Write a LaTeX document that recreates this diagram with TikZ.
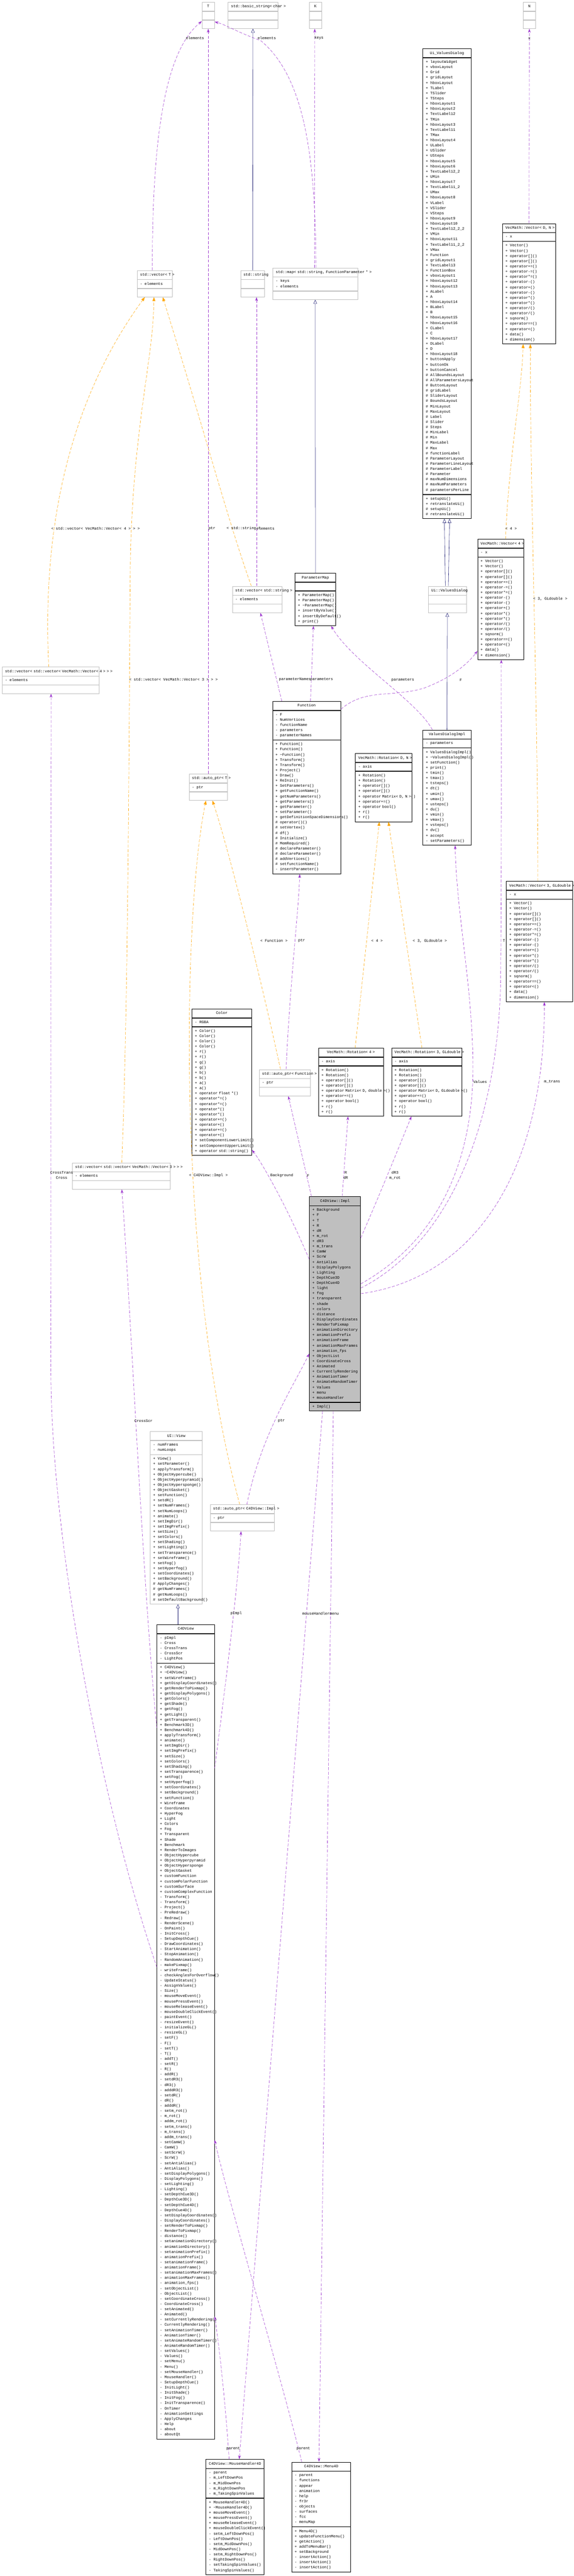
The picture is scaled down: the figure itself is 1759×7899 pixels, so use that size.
\documentclass[tikz,border=0pt]{standalone}
\usepackage{fontspec}
\setmainfont{Liberation Mono}
\usetikzlibrary{arrows.meta, fit}

\definecolor{dxpurple}{HTML}{9A32CD}
\definecolor{dxorange}{HTML}{FFA500}
\definecolor{dxnavy}{HTML}{191970}
\definecolor{dxgray}{HTML}{BFBFBF}

\tikzset{
  kind doc/.style={draw=black},
  kind ext/.style={draw=dxgray},
  kind cur/.style={draw=black, fill=dxgray},
  hdr/.style={kind #1, line width=1pt, anchor=north west, align=center, inner xsep=9pt, inner ysep=0pt, minimum height=27pt},
  sec/.style={kind #1, line width=1pt, anchor=north west, align=left, inner xsep=9pt, inner ysep=5pt},
  use/.style={dxpurple, dash pattern=on 9pt off 5pt, line width=0.9pt, -{Stealth[length=12pt,width=8pt]}},
  tmpl/.style={dxorange, dash pattern=on 9pt off 5pt, line width=0.9pt, -{Triangle[length=12pt,width=9pt]}},
  inh/.style={dxnavy, line width=0.9pt, -{Triangle[open,length=12pt,width=11pt]}},
  lbl/.style={inner sep=0pt, align=center}
}

\newcommand{\mb}[2]{\noindent\mbox{\strut\makebox[14pt][l]{#1}#2}\par}
\newcommand{\rows}[2]{\foreach \mem in {#2}{\mb{#1}{\mem}}}
\newcommand{\umlclass}[7]{%
  \pgfmathsetmacro{\tw}{#4-18}%
  \node[hdr=#2, text width=\tw pt] (#1-t) at #3 {\mbox{\strut #5}};
  \node[sec=#2, text width=\tw pt] (#1-a) at (#1-t.south west) {#6};
  \node[sec=#2, text width=\tw pt] (#1-m) at (#1-a.south west) {#7};
  \node[fit=(#1-t)(#1-m), inner sep=0pt] (#1) {};
}

\begin{document}
\begin{tikzpicture}[x=1pt, y=-1pt, every node/.style={font=\fontsize{11.6}{16}\selectfont}]
\useasboundingbox (0,0) rectangle (1759,7899);

\umlclass{T}{ext}{(619,6)}{38}{T}{\mb{}{}}{\mb{}{}}
\umlclass{basic}{ext}{(699,6)}{152}{std::basic\_string< char >}{\mb{}{}}{\mb{}{}}
\umlclass{K}{ext}{(948,6)}{37}{K}{\mb{}{}}{\mb{}{}}
\umlclass{N}{ext}{(1604,6)}{37}{N}{\mb{}{}}{\mb{}{}}

\umlclass{UiVD}{doc}{(1296,149)}{148}{Ui\_ValuesDialog}{%
  \rows{+}{layoutWidget,vboxLayout,Grid,gridLayout,hboxLayout,TLabel,TSlider,TSteps,hboxLayout1,hboxLayout2,TextLabel12,TMin,hboxLayout3,TextLabel11,TMax,hboxLayout4,ULabel,USlider,USteps,hboxLayout5,hboxLayout6,TextLabel12\_2,UMin,hboxLayout7,TextLabel11\_2,UMax,hboxLayout8,VLabel,VSlider,VSteps,hboxLayout9,hboxLayout10,TextLabel12\_2\_2,VMin,hboxLayout11,TextLabel11\_2\_2,VMax,Function,gridLayout1,TextLabel13,FunctionBox,vboxLayout1,hboxLayout12,hboxLayout13,ALabel,A,hboxLayout14,BLabel,B,hboxLayout15,hboxLayout16,CLabel,C,hboxLayout17,DLabel,D,hboxLayout18,buttonApply,buttonOk,buttonCancel}%
  \rows{\#}{AllBoundsLayout,AllParametersLayout,ButtonLayout,gridLabel,SliderLayout,BoundsLayout,MinLayout,MaxLayout,Label,Slider,Steps,MinLabel,Min,MaxLabel,Max,functionLabel,ParameterLayout,ParameterLineLayout,ParameterLabel,Parameter,maxNumDimensions,maxNumParameters,parametersPerLine}}{%
  \rows{+}{setupUi(),retranslateUi()}\rows{\#}{setupUi(),retranslateUi()}}

\umlclass{VecDN}{doc}{(1540,685)}{163}{VecMath::Vector< D, N >}{\mb{-}{x}}{%
  \rows{+}{Vector(),Vector(),operator[](),operator[](),operator+=(),operator-=(),operator*=(),operator-(),operator+(),operator-(),operator*(),operator*(),operator/(),operator/(),sqnorm(),operator==(),operator<(),data(),dimension()}}

\umlclass{map}{ext}{(836,821)}{260}{std::map< std::string, FunctionParameter * >}{\mb{-}{keys}\mb{-}{elements}}{\mb{}{}}
\umlclass{vecT}{ext}{(420,829)}{107}{std::vector< T >}{\mb{-}{elements}}{\mb{}{}}
\umlclass{stdstring}{ext}{(737,829)}{74}{std::string}{\mb{}{}}{\mb{}{}}

\umlclass{PMap}{doc}{(904,1757)}{125}{ParameterMap}{\mb{}{}}{%
  \rows{+}{ParameterMap(),ParameterMap(),\textasciitilde ParameterMap(),insertByValue(),insertByDefault(),print()}}
\umlclass{vecString}{ext}{(712,1797)}{152}{std::vector< std::string >}{\mb{-}{elements}}{\mb{}{}}
\umlclass{UiVDns}{ext}{(1313,1797)}{116}{Ui::ValuesDialog}{\mb{}{}}{\mb{}{}}

\umlclass{Vec4}{doc}{(1464,1653)}{141}{VecMath::Vector< 4 >}{\mb{-}{x}}{%
  \rows{+}{Vector(),Vector(),operator[](),operator[](),operator+=(),operator-=(),operator*=(),operator-(),operator-(),operator+(),operator*(),operator*(),operator/(),operator/(),sqnorm(),operator==(),operator<(),data(),dimension()}}

\umlclass{vvV4}{ext}{(6,2045)}{298}{std::vector< std::vector< VecMath::Vector< 4 > > >}{\mb{-}{elements}}{\mb{}{}}

\umlclass{Function}{doc}{(835,2150)}{209}{Function}{%
  \rows{-}{F,NumVertices,functionName,parameters,parameterNames}}{%
  \rows{+}{Function(),Function(),\textasciitilde Function(),Transform(),Transform(),Project(),Draw(),ReInit(),SetParameters(),getFunctionName(),getNumParameters(),getParameters(),getParameter(),setParameter(),getDefinitionSpaceDimensions()}%
  \rows{\#}{operator()(),setVertex(),df(),Initialize(),MemRequired(),declareParameter(),declareParameter(),addVertices(),setfunctionName()}%
  \mb{-}{insertParameter()}}

\umlclass{VDI}{doc}{(1296,2238)}{148}{ValuesDialogImpl}{\mb{-}{parameters}}{%
  \rows{+}{ValuesDialogImpl(),\textasciitilde ValuesDialogImpl(),setFunction(),print(),tmin(),tmax(),tsteps(),dt(),umin(),umax(),usteps(),du(),vmin(),vmax(),vsteps(),dv(),accept}%
  \mb{-}{setParameters()}}

\umlclass{RotDN}{doc}{(1089,2310)}{173}{VecMath::Rotation< D, N >}{\mb{-}{axis}}{%
  \rows{+}{Rotation(),Rotation(),operator[](),operator[](),{operator Matrix< D, N >()},operator+=(),operator bool(),r(),r()}}
\umlclass{autoT}{ext}{(579,2373)}{118}{std::auto\_ptr< T >}{\mb{-}{ptr}}{\mb{}{}}

\umlclass{Vec3GL}{doc}{(1552,2702)}{203}{VecMath::Vector< 3, GLdouble >}{\mb{-}{x}}{%
  \rows{+}{Vector(),Vector(),operator[](),operator[](),operator+=(),operator-=(),operator*=(),operator-(),operator-(),operator+(),operator*(),operator*(),operator/(),operator/(),sqnorm(),operator==(),operator<(),data(),dimension()}}

\umlclass{Color}{doc}{(588,3093)}{183}{Color}{\mb{-}{RGBA}}{%
  \rows{+}{Color(),Color(),Color(),Color(),r(),r(),g(),g(),b(),b(),a(),a(),operator float *(),operator*=(),operator*=(),operator*(),operator*(),operator+=(),operator+(),operator+=(),operator+(),setComponentLowerLimit(),setComponentUpperLimit(),operator std::string()}}

\umlclass{Rot4}{doc}{(976,3213)}{199}{VecMath::Rotation< 4 >}{\mb{-}{axis}}{%
  \rows{+}{Rotation(),Rotation(),operator[](),operator[](),{operator Matrix< D, double >()},operator+=(),operator bool(),r(),r()}}
\umlclass{Rot3GL}{doc}{(1200,3213)}{216}{VecMath::Rotation< 3, GLdouble >}{\mb{-}{axis}}{%
  \rows{+}{Rotation(),Rotation(),operator[](),operator[](),{operator Matrix< D, GLdouble >()},operator+=(),operator bool(),r(),r()}}
\umlclass{autoF}{ext}{(794,3279)}{157}{std::auto\_ptr< Function >}{\mb{-}{ptr}}{\mb{}{}}
\umlclass{vvV3}{ext}{(221,3565)}{300}{std::vector< std::vector< VecMath::Vector< 3 > > >}{\mb{-}{elements}}{\mb{}{}}

\umlclass{Impl}{cur}{(948,3669)}{157}{C4DView::Impl}{%
  \rows{+}{Background,F,T,R,dR,m\_rot,dR3,m\_trans,CamW,ScrW,AntiAlias,DisplayPolygons,Lighting,DepthCue3D,DepthCue4D,light,fog,transparent,shade,colors,distance,DisplayCoordinates,RenderToPixmap,animationDirectory,animationPrefix,animationFrame,animationMaxFrames,animation\_fps,ObjectList,CoordinateCross,Animated,CurrentlyRendering,AnimationTimer,AnimateRandomTimer,Values,menu,mouseHandler}}{\mb{+}{Impl()}}

\umlclass{UIView}{ext}{(460,4389)}{160}{UI::View}{\rows{-}{numFrames,numLoops}}{%
  \rows{+}{View(),setParameter(),applyTransform(),ObjectHypercube(),ObjectHyperpyramid(),ObjectHypersponge(),ObjectGasket(),setFunction(),setdR(),setNumFrames(),setNumLoops(),animate(),setImgDir(),setImgPrefix(),setSize(),setColors(),setShading(),setLighting(),setTransparence(),setWireframe(),setFog(),setHyperfog(),setCoordinates(),setBackground()}%
  \rows{\#}{ApplyChanges(),getNumFrames(),getNumLoops(),setDefaultBackground()}}
\umlclass{autoImpl}{ext}{(644,4613)}{197}{std::auto\_ptr< C4DView::Impl >}{\mb{-}{ptr}}{\mb{}{}}

\umlclass{C4DView}{doc}{(481,4981)}{176}{C4DView}{\rows{-}{pImpl,Cross,CrossTrans,CrossScr,LightPos}}{%
  \rows{+}{C4DView(),\textasciitilde C4DView(),setWireframe(),getDisplayCoordinates(),getRenderToPixmap(),getDisplayPolygons(),getColors(),getShade(),getFog(),getLight(),getTransparent(),Benchmark3D(),Benchmark4D(),applyTransform(),animate(),setImgDir(),setImgPrefix(),setSize(),setColors(),setShading(),setTransparence(),setFog(),setHyperfog(),setCoordinates(),setBackground(),setFunction(),Wireframe,Coordinates,HyperFog,Light,Colors,Fog,Transparent,Shade,Benchmark,RenderToImages,ObjectHypercube,ObjectHyperpyramid,ObjectHypersponge,ObjectGasket,customFunction,customPolarFunction,customSurface,customComplexFunction}%
  \rows{-}{Transform(),Transform(),Project(),PreRedraw(),Redraw(),RenderScene(),OnPaint(),InitCross(),SetupDepthCue(),DrawCoordinates(),StartAnimation(),StopAnimation(),RandomAnimation(),makePixmap(),writeFrame(),checkAnglesForOverflow(),UpdateStatus(),AssignValues(),Size(),mouseMoveEvent(),mousePressEvent(),mouseReleaseEvent(),mouseDoubleClickEvent(),paintEvent(),resizeEvent(),initializeGL(),resizeGL(),setF(),F(),setT(),T(),addT(),setR(),R(),addR(),setdR3(),dR3(),adddR3(),setdR(),dR(),adddR(),setm\_rot(),m\_rot(),addm\_rot(),setm\_trans(),m\_trans(),addm\_trans(),setCamW(),CamW(),setScrW(),ScrW()}%
  \rows{-}{setAntiAlias(),AntiAlias(),setDisplayPolygons(),DisplayPolygons(),setLighting(),Lighting(),setDepthCue3D(),DepthCue3D(),setDepthCue4D(),DepthCue4D(),setDisplayCoordinates(),DisplayCoordinates(),setRenderToPixmap(),RenderToPixmap(),distance(),setanimationDirectory(),animationDirectory(),setanimationPrefix(),animationPrefix(),setanimationFrame(),animationFrame(),setanimationMaxFrames(),animationMaxFrames(),animation\_fps(),setObjectList(),ObjectList(),setCoordinateCross(),CoordinateCross(),setAnimated(),Animated(),setCurrentlyRendering(),CurrentlyRendering(),setAnimationTimer(),AnimationTimer(),setAnimateRandomTimer(),AnimateRandomTimer(),setValues(),Values(),setMenu(),Menu(),setMouseHandler(),MouseHandler(),SetupDepthCue(),InitLight(),InitShade(),InitFog(),InitTransparence(),OnTimer,AnimationSettings,ApplyChanges,Help,about,aboutQt}}

\umlclass{MH4D}{doc}{(631,7541)}{178}{C4DView::MouseHandler4D}{%
  \rows{-}{parent,m\_LeftDownPos,m\_MidDownPos,m\_RightDownPos,m\_TakingSpinValues}}{%
  \rows{+}{MouseHandler4D(),\textasciitilde MouseHandler4D(),mouseMoveEvent(),mousePressEvent(),mouseReleaseEvent(),mouseDoubleClickEvent()}%
  \rows{-}{setm\_LeftDownPos(),LeftDownPos(),setm\_MidDownPos(),MidDownPos(),setm\_RightDownPos(),RightDownPos(),setTakingSpinValues(),TakingSpinValues()}}
\umlclass{Menu4D}{doc}{(894,7549)}{181}{C4DView::Menu4D}{%
  \rows{-}{parent,functions,appear,animation,help,fr3r,objects,surfaces,fcc,menuMap}}{%
  \rows{+}{Menu4D(),updateFunctionMenu(),getAction(),addToMenuBar(),setBackground}%
  \rows{-}{insertAction(),insertAction(),insertAction()}}

\draw[use] ([xshift=-7pt]vecT.north) .. controls (466,380) and (515,150) .. ([yshift=-18pt]T.west);
\draw[use] ([xshift=2pt]map.north) .. controls (968,450) and (925,230) .. (800,125) .. controls (720,95) and (690,75) .. ([yshift=-20pt]T.east);
\draw[use] ([xshift=-2pt]map.north) -- ([xshift=-2pt]K.south);
\draw[inh] (stdstring.north) -- (basic.south);
\draw[use] (autoT.north) -- (T.south);
\draw[use] (VecDN.north) -- (N.south);
\draw[tmpl] ([xshift=-6pt]vvV4.north) .. controls (135,1750) and (160,1300) .. ([xshift=-30pt]vecT.south);
\draw[tmpl] ([xshift=2pt]vvV3.north) .. controls (396,3000) and (396,2000) .. (400,1700) .. controls (410,1300) and (470,1100) .. ([xshift=-2pt]vecT.south);
\draw[tmpl] ([xshift=-18pt]vecString.north) .. controls (700,1600) and (620,1300) .. ([xshift=25pt]vecT.south);
\draw[use] ([xshift=-2pt]vecString.north) -- ([xshift=12pt]stdstring.south);
\draw[inh] (PMap.north) -- (map.south);
\draw[use] ([xshift=-76pt]Function.north) -- ([xshift=10pt]vecString.south);
\draw[use] ([xshift=12pt]Function.north) -- ([xshift=-6pt]PMap.south);
\draw[use] ([xshift=-45pt]VDI.north) .. controls (1280,2150) and (1080,2030) .. ([xshift=48pt]PMap.south);
\draw[use] ([yshift=-25pt]Function.north east) .. controls (1120,2110) and (1200,2140) .. (1300,2110) .. controls (1380,2080) and (1430,2040) .. ([yshift=27pt]Vec4.south west);
\draw[inh] (VDI.north) -- (UiVDns.south);
\draw[inh] ([xshift=-6pt]UiVDns.north) -- ([xshift=-8pt]UiVD.south);
\draw[inh] ([xshift=3pt]UiVDns.north) -- ([xshift=8pt]UiVD.south);
\draw[tmpl] ([xshift=15pt]Vec4.north) .. controls (1560,1400) and (1600,1200) .. ([xshift=-18pt]VecDN.south);
\draw[tmpl] ([xshift=-5pt]Vec3GL.north) .. controls (1650,2200) and (1625,1500) .. ([xshift=4pt]VecDN.south);
\draw[tmpl] ([xshift=13pt]Rot4.north) -- ([xshift=-13pt]RotDN.south);
\draw[tmpl] ([xshift=-15pt]Rot3GL.north) -- ([xshift=15pt]RotDN.south);
\draw[tmpl] ([xshift=-13pt]autoF.north) .. controls (800,3000) and (700,2600) .. ([xshift=13pt]autoT.south);
\draw[use] ([xshift=4pt]autoF.north) .. controls (890,3000) and (915,2800) .. ([xshift=-21pt]Function.south);
\draw[tmpl] ([xshift=-8pt]autoImpl.north) .. controls (540,3900) and (560,2800) .. ([xshift=-7pt]autoT.south);
\draw[use] ([xshift=14pt]autoImpl.north) .. controls (800,4400) and (900,4250) .. ([yshift=-153pt]Impl.west);
\draw[use] ([yshift=808pt]C4DView.east) .. controls (700,5100) and (730,4850) .. ([xshift=-4pt]autoImpl.south);
\draw[inh] ([xshift=-24pt]C4DView.north) -- ([xshift=5pt]UIView.south);
\draw[use] ([yshift=932pt]C4DView.west) .. controls (440,4900) and (400,4000) .. ([xshift=2pt]vvV3.south);
\draw[use] ([yshift=198pt]C4DView.west) .. controls (300,5500) and (156,4700) .. (156,4200) -- ([xshift=1pt]vvV4.south);
\draw[use] ([yshift=137pt]Impl.west) .. controls (880,3700) and (800,3560) .. ([yshift=-208pt]Color.east);
\draw[use] ([xshift=-72pt]Impl.north) -- ([xshift=11pt]autoF.south);
\draw[use] ([xshift=22pt]Impl.north) -- ([xshift=-9pt]Rot4.south);
\draw[use] ([yshift=-127pt]Impl.north east) .. controls (1170,3650) and (1230,3500) .. ([xshift=-47pt]Rot3GL.south);
\draw[use] ([yshift=-268pt]Impl.north east) .. controls (1350,3800) and (1455,3550) .. (1450,3250) .. controls (1445,3000) and (1400,2800) .. ([xshift=25pt]VDI.south);
\draw[use] ([yshift=-281pt]Impl.north east) .. controls (1400,3800) and (1530,3400) .. (1535,3000) .. controls (1538,2600) and (1537,2300) .. ([xshift=2pt]Vec4.south);
\draw[use] ([yshift=-298pt]Impl.north east) .. controls (1450,3920) and (1670,3600) .. ([xshift=15pt]Vec3GL.south);
\draw[use] ([xshift=-38pt]Impl.south) -- ([xshift=13pt]MH4D.north);
\draw[use] ([xshift=-5pt]Impl.south) -- ([xshift=-7pt]Menu4D.north);
\draw[use] ([xshift=-18pt]MH4D.north) .. controls (690,7350) and (670,7180) .. ([yshift=-873pt]C4DView.east);
\draw[use] ([xshift=-60pt]Menu4D.north) .. controls (860,7280) and (700,6750) .. ([yshift=-332pt]C4DView.east);

\node[lbl] (l-vecT) at (598,117) {elements};
\node[lbl] (l-mapT) at (818,117) {elements};
\node[lbl] (l-mapK) at (978,117) {keys};
\node[lbl] (l-vecDN) at (1623,117) {x};
\node[lbl] (l-vvV4) at (293,1621) {< std::vector< VecMath::Vector< 4 > > >};
\node[lbl] (l-autoT) at (650,1621) {ptr};
\node[lbl] (l-vecStr) at (747,1621) {< std::string >};
\node[lbl] (l-vecStrE) at (814,1621) {elements};
\node[lbl] (l-vec4) at (1567,1621) {< 4 >};
\node[lbl] (l-vec3GL) at (1687,1836) {< 3, GLdouble >};
\node[lbl] (l-vvV3) at (532,2084) {< std::vector< VecMath::Vector< 3 > > >};
\node[lbl] (l-fnNames) at (904,2084) {parameterNames};
\node[lbl] (l-fnPar) at (986,2084) {parameters};
\node[lbl] (l-vdiPar) at (1235,2085) {parameters};
\node[lbl] (l-fnF) at (1413,2085) {F};
\node[lbl] (l-autoF) at (840,2885) {< Function >};
\node[lbl] (l-autoFptr) at (925,2885) {ptr};
\node[lbl] (l-rot4) at (1156,2885) {< 4 >};
\node[lbl] (l-rot3GL) at (1318,2885) {< 3, GLdouble >};
\node[lbl] (l-implT) at (1545,2885) {T};
\node[lbl] (l-values) at (1472,3317) {Values};
\node[lbl] (l-mtrans) at (1693,3317) {m\_trans};
\node[lbl] (l-cross) at (189,3604) {CrossTrans\\Cross};
\node[lbl] (l-autoImpl) at (639,3605) {< C4DView::Impl >};
\node[lbl] (l-bg) at (864,3605) {Background};
\node[lbl] (l-implF) at (945,3605) {F};
\node[lbl] (l-implR) at (1060,3604) {R\\dR};
\node[lbl] (l-implRot) at (1211,3604) {dR3\\m\_rot};
\node[lbl] (l-crossScr) at (440,4357) {CrossScr};
\node[lbl] (l-implPtr) at (863,4357) {ptr};
\node[lbl] (l-pImpl) at (724,4948) {pImpl};
\node[lbl] (l-mouse) at (969,4948) {mouseHandler};
\node[lbl] (l-menu) at (1025,4948) {menu};
\node[lbl] (l-mhParent) at (715,7509) {parent};
\node[lbl] (l-menuParent) at (930,7509) {parent};
\end{tikzpicture}
\end{document}
